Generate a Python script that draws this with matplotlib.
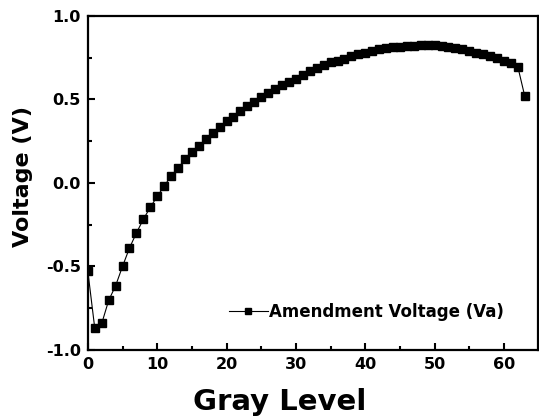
import numpy as np
import matplotlib.pyplot as plt
from matplotlib.ticker import MultipleLocator

# Gray level vs amendment voltage
gray = np.arange(64)
va = [-0.53, -0.872, -0.842, -0.704, -0.616, -0.50, -0.39, -0.30, -0.218, -0.146,
      -0.081, -0.019, 0.041, 0.089, 0.141, 0.185, 0.221, 0.263, 0.297, 0.333,
      0.368, 0.395, 0.429, 0.458, 0.485, 0.512, 0.539, 0.562, 0.584, 0.604,
      0.625, 0.646, 0.668, 0.686, 0.704, 0.722, 0.732, 0.744, 0.758, 0.770,
      0.780, 0.792, 0.800, 0.810, 0.816, 0.816, 0.820, 0.822, 0.824, 0.824,
      0.824, 0.822, 0.816, 0.810, 0.802, 0.792, 0.780, 0.770, 0.760, 0.746,
      0.730, 0.716, 0.696, 0.52]

plt.rcParams['font.family'] = ['DejaVu Sans']
plt.rcParams['font.weight'] = 'bold'

fig = plt.figure(figsize=(5.39, 4.2), dpi=100)
ax = fig.add_axes([0.163, 0.167, 0.835, 0.795])

ax.plot(gray, va, color='black', lw=0.8, marker='s', ms=5.2,
        label='Amendment Voltage (Va)')

ax.set_xlim(0, 64.9)
ax.set_ylim(-1.0, 1.0)
ax.xaxis.set_major_locator(MultipleLocator(10))
ax.xaxis.set_minor_locator(MultipleLocator(5))
ax.yaxis.set_major_locator(MultipleLocator(0.5))
ax.yaxis.set_minor_locator(MultipleLocator(0.25))
ax.yaxis.set_major_formatter(plt.FormatStrFormatter('%.1f'))

ax.tick_params(which='both', direction='in', width=1.5, labelsize=11.5)
ax.tick_params(which='major', length=5, pad=5)
ax.tick_params(which='minor', length=3)
for s in ax.spines.values():
    s.set_linewidth(1.6)

ax.set_xlabel('Gray Level', fontsize=21, fontweight='bold')
ax.xaxis.set_label_coords(0.427, -0.115)
ax.set_ylabel('Voltage (V)', fontsize=16, fontweight='bold')
ax.yaxis.set_label_coords(-0.122, 0.52)

ax.legend(loc='center right', bbox_to_anchor=(0.925, 0.114), frameon=False,
          fontsize=12, handlelength=2.3, handletextpad=0.1, borderpad=0,
          borderaxespad=0, markerscale=0.7)

fig.savefig('out.png', dpi=100)
